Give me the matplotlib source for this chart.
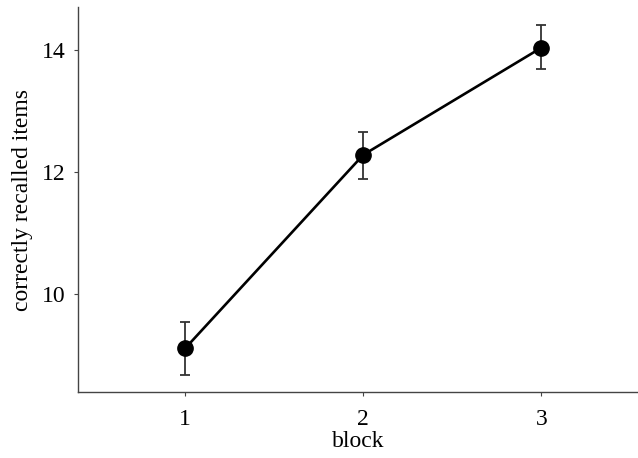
import numpy as np
import matplotlib
matplotlib.use('Agg')
import matplotlib.pyplot as plt

# Dados
blocos = [1, 2, 3]
media = [9.12, 12.28, 14.03]
erro_sup = [9.55, 12.66, 14.40]
erro_inf = [8.69, 11.89, 13.68]

plt.rcParams['font.family'] = ['Liberation Serif', 'DejaVu Serif']

media = np.array(media)
yerr = [media - np.array(erro_inf), np.array(erro_sup) - media]

fig = plt.figure(figsize=(6.38, 4.58), dpi=100)
ax = fig.add_axes([0.123, 0.1435, 0.877, 0.8405])

ax.errorbar(blocos, media, yerr=yerr, fmt='none', ecolor='#333333',
            elinewidth=1.3, capsize=3.5, capthick=1.3, zorder=2)
ax.plot(blocos, media, color='black', lw=1.9, marker='o', ms=11, zorder=3)

ax.set_xlim(0.4, 3.543)
ax.set_ylim(8.40, 14.69)
ax.set_xticks(blocos)
ax.set_yticks([10, 12, 14])

for s in ['top', 'right']:
    ax.spines[s].set_visible(False)
for s in ['left', 'bottom']:
    ax.spines[s].set_color('#444444')
    ax.spines[s].set_linewidth(1.0)

ax.tick_params(colors='#444444', length=3, width=0.8, labelsize=17,
               labelcolor='black')
ax.tick_params(axis='x', pad=9)
ax.tick_params(axis='y', pad=6)
ax.set_xlabel('block', fontsize=17, labelpad=1)
ax.set_ylabel('correctly recalled items', fontsize=17, labelpad=7)

fig.savefig('out.png', dpi=100)
